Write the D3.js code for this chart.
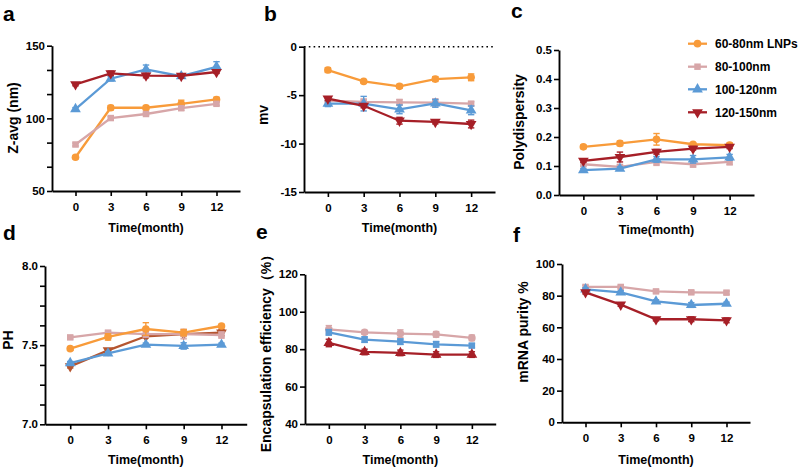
<!DOCTYPE html>
<html>
<head>
<meta charset="utf-8">
<script src="https://cdn.jsdelivr.net/npm/d3@7"></script>
<style>
  html, body { margin: 0; padding: 0; background: #fff; }
  svg { display: block; }
  text { font-family: "Liberation Sans", Arial, sans-serif; font-weight: bold; fill: #000; }
</style>
</head>
<body>
<svg id="chart" width="800" height="469"></svg>
<script>
// ---------------- DATA ----------------
const months = [0, 3, 6, 9, 12];
const xTickLabels = ["0", "3", "6", "9", "12"];
const seriesNames = ["60-80nm LNPs", "80-100nm", "100-120nm", "120-150nm"];

// a: Z-avg (nm)
const zavg_60_80 = [73.2, 107.3, 107.3, 110.0, 113.0];
const zavg_60_80_err = [1.0, 1.5, 1.5, 2.5, 1.5];
const zavg_80_100 = [82.0, 100.2, 103.0, 107.0, 110.0];
const zavg_80_100_err = [1.0, 1.0, 1.0, 1.5, 1.0];
const zavg_100_120 = [106.4, 127.3, 133.7, 129.0, 135.5];
const zavg_100_120_err = [1.0, 1.5, 3.0, 1.0, 3.5];
const zavg_120_150 = [123.4, 131.0, 129.4, 129.2, 131.9];
const zavg_120_150_err = [1.0, 1.5, 1.5, 1.5, 1.0];
const zavgTicks = [50, 100, 150];
const zavgMinor = [66.7, 83.3, 116.7, 133.3];

// b: zeta potential (mv)
const mv_60_80 = [-2.41, -3.58, -4.09, -3.34, -3.16];
const mv_60_80_err = [0.25, 0.15, 0.2, 0.25, 0.35];
const mv_80_100 = [-5.57, -5.70, -5.74, -5.78, -5.88];
const mv_80_100_err = [0.2, 0.3, 0.3, 0.4, 0.2];
const mv_100_120 = [-5.88, -5.88, -6.47, -5.85, -6.57];
const mv_100_120_err = [0.3, 0.75, 0.45, 0.4, 0.45];
const mv_120_150 = [-5.37, -6.10, -7.64, -7.77, -7.98];
const mv_120_150_err = [0.2, 0.2, 0.35, 0.2, 0.4];
const mvTicks = [-15, -10, -5, 0];

// c: Polydispersity
const pdi_60_80 = [0.166, 0.178, 0.192, 0.175, 0.172];
const pdi_60_80_err = [0.006, 0.008, 0.02, 0.005, 0.007];
const pdi_80_100 = [0.106, 0.097, 0.114, 0.106, 0.114];
const pdi_80_100_err = [0.006, 0.006, 0.012, 0.01, 0.01];
const pdi_100_120 = [0.086, 0.091, 0.123, 0.123, 0.130];
const pdi_100_120_err = [0.005, 0.006, 0.01, 0.013, 0.01];
const pdi_120_150 = [0.118, 0.131, 0.149, 0.160, 0.166];
const pdi_120_150_err = [0.005, 0.017, 0.008, 0.005, 0.006];
const pdiTicks = [0.0, 0.1, 0.2, 0.3, 0.4, 0.5];

// d: PH
const ph_60_80 = [7.478, 7.552, 7.602, 7.579, 7.621];
const ph_60_80_err = [0.01, 0.02, 0.04, 0.02, 0.01];
const ph_80_100 = [7.549, 7.579, 7.570, 7.570, 7.564];
const ph_80_100_err = [0.01, 0.01, 0.02, 0.03, 0.02];
const ph_100_120 = [7.387, 7.448, 7.503, 7.495, 7.503];
const ph_100_120_err = [0.01, 0.01, 0.01, 0.02, 0.01];
const ph_120_150 = [7.366, 7.467, 7.556, 7.570, 7.579];
const ph_120_150_err = [0.01, 0.01, 0.01, 0.01, 0.02];
const phTicks = [7.0, 7.5, 8.0];
const phMinor = [7.125, 7.25, 7.375, 7.625, 7.75, 7.875];

// e: Encapsulation efficiency (%)
const ee_80_100 = [90.6, 89.0, 88.3, 87.9, 86.0];
const ee_80_100_err = [2.0, 1.0, 2.0, 1.5, 1.5];
const ee_100_120 = [89.0, 85.1, 84.0, 82.6, 81.9];
const ee_100_120_err = [1.5, 1.5, 1.5, 1.5, 1.0];
const ee_120_150 = [83.3, 78.5, 78.0, 77.1, 77.1];
const ee_120_150_err = [2.0, 1.5, 1.5, 1.5, 1.5];
const eeTicks = [40, 60, 80, 100, 120];

// f: mRNA purity %
const pur_80_100 = [85.5, 85.5, 82.7, 82.1, 81.9];
const pur_80_100_err = [1.0, 1.0, 1.0, 1.0, 1.0];
const pur_100_120 = [84.0, 82.1, 76.4, 74.1, 74.9];
const pur_100_120_err = [1.0, 1.0, 1.0, 1.5, 1.0];
const pur_120_150 = [82.1, 74.3, 65.1, 65.1, 64.4];
const pur_120_150_err = [1.0, 1.0, 1.0, 1.5, 1.5];
const purTicks = [0, 20, 40, 60, 80, 100];

// ---------------- STYLE ----------------
const C_ORANGE = "#F89B3A", C_PINK = "#D7A6A8", C_BLUE = "#5B9AD6", C_RED = "#A61F27", C_BROWN = "#B5552F";
const SYM = {
  circle: {type: d3.symbolCircle, size: 46, rot: 0},
  square: {type: d3.symbolSquare, size: 42, rot: 0},
  tri: {type: d3.symbolTriangle, size: 50, rot: 0},
  inv: {type: d3.symbolTriangle, size: 50, rot: 180}
};

const panels = [
  {letter: "a", lx: 3, ly: 21, x0: 52, x1: 240, y0: 45.7, y1: 191, dom: [50, 150], ticks: zavgTicks, minor: zavgMinor, fmt: d => d,
   title: "Z-avg (nm)", tx: 18, ty: 118, xt: 232,
   series: [
     {v: zavg_60_80, e: zavg_60_80_err, c: C_ORANGE, s: "circle"},
     {v: zavg_80_100, e: zavg_80_100_err, c: C_PINK, s: "square"},
     {v: zavg_100_120, e: zavg_100_120_err, c: C_BLUE, s: "tri"},
     {v: zavg_120_150, e: zavg_120_150_err, c: C_RED, s: "inv"}]},
  {letter: "b", lx: 264, ly: 21, x0: 304, x1: 495, y0: 46.7, y1: 192, dom: [-15, 0], ticks: mvTicks, minor: [], fmt: d => d,
   title: "mv", tx: 268, ty: 115, xt: 232, zeroLine: true,
   series: [
     {v: mv_60_80, e: mv_60_80_err, c: C_ORANGE, s: "circle"},
     {v: mv_80_100, e: mv_80_100_err, c: C_PINK, s: "square"},
     {v: mv_100_120, e: mv_100_120_err, c: C_BLUE, s: "tri"},
     {v: mv_120_150, e: mv_120_150_err, c: C_RED, s: "inv"}]},
  {letter: "c", lx: 511, ly: 18, x0: 559, x1: 754, y0: 50, y1: 195, dom: [0, 0.5], ticks: pdiTicks, minor: [], fmt: d3.format(".1f"),
   title: "Polydispersity", tx: 524, ty: 122, xt: 234, legend: true,
   series: [
     {v: pdi_60_80, e: pdi_60_80_err, c: C_ORANGE, s: "circle"},
     {v: pdi_80_100, e: pdi_80_100_err, c: C_PINK, s: "square"},
     {v: pdi_100_120, e: pdi_100_120_err, c: C_BLUE, s: "tri"},
     {v: pdi_120_150, e: pdi_120_150_err, c: C_RED, s: "inv"}]},
  {letter: "d", lx: 3, ly: 240, x0: 45, x1: 246.7, y0: 266, y1: 424.3, dom: [7.0, 8.0], ticks: phTicks, minor: phMinor, fmt: d3.format(".1f"),
   title: "PH", tx: 12.5, ty: 340, xt: 464,
   series: [
     {v: ph_120_150, e: ph_120_150_err, c: C_BROWN, s: "inv"},
     {v: ph_100_120, e: ph_100_120_err, c: C_BLUE, s: "tri"},
     {v: ph_80_100, e: ph_80_100_err, c: C_PINK, s: "square"},
     {v: ph_60_80, e: ph_60_80_err, c: C_ORANGE, s: "circle"}]},
  {letter: "e", lx: 256, ly: 239, x0: 305, x1: 495.7, y0: 274.3, y1: 424, dom: [40, 120], ticks: eeTicks, minor: [], fmt: d => d,
   title: "Encapsulation efficiency（%）", tx: 271, ty: 350, xt: 464,
   series: [
     {v: ee_80_100, e: ee_80_100_err, c: C_PINK, s: "circle"},
     {v: ee_100_120, e: ee_100_120_err, c: C_BLUE, s: "square"},
     {v: ee_120_150, e: ee_120_150_err, c: C_RED, s: "tri"}]},
  {letter: "f", lx: 513, ly: 242, x0: 562, x1: 750, y0: 264, y1: 422.3, dom: [0, 100], ticks: purTicks, minor: [], fmt: d => d,
   title: "mRNA purity %", tx: 528, ty: 332, xt: 464,
   series: [
     {v: pur_80_100, e: pur_80_100_err, c: C_PINK, s: "square"},
     {v: pur_100_120, e: pur_100_120_err, c: C_BLUE, s: "tri"},
     {v: pur_120_150, e: pur_120_150_err, c: C_RED, s: "inv"}]}
];

const svg = d3.select("#chart");

function symbolPath(key) {
  return d3.symbol().type(SYM[key].type).size(SYM[key].size)();
}

function drawPanel(p) {
  const g = svg.append("g");
  const x = d3.scaleLinear().domain([-2, 14]).range([p.x0, p.x1]);
  const y = d3.scaleLinear().domain(p.dom).range([p.y1, p.y0]);

  // panel letter
  svg.append("text").attr("x", p.lx).attr("y", p.ly).attr("font-size", 21).text(p.letter);

  // zero dotted line
  if (p.zeroLine) {
    g.append("line").attr("x1", p.x0).attr("x2", p.x1).attr("y1", y(0)).attr("y2", y(0))
      .attr("stroke", "#000").attr("stroke-width", 1.6).attr("stroke-dasharray", "1.6,3.2");
  }

  // series
  const line = d3.line().x((d, i) => x(months[i])).y(d => y(d));
  p.series.forEach(s => {
    const sg = g.append("g");
    sg.append("path").attr("d", line(s.v)).attr("fill", "none").attr("stroke", s.c).attr("stroke-width", 2.3);
    s.v.forEach((v, i) => {
      const cx = x(months[i]);
      const yt = y(v + s.e[i]), yb = y(v - s.e[i]);
      sg.append("line").attr("x1", cx).attr("x2", cx).attr("y1", yt).attr("y2", yb).attr("stroke", s.c).attr("stroke-width", 1.4);
      sg.append("line").attr("x1", cx - 3.2).attr("x2", cx + 3.2).attr("y1", yt).attr("y2", yt).attr("stroke", s.c).attr("stroke-width", 1.4);
      sg.append("line").attr("x1", cx - 3.2).attr("x2", cx + 3.2).attr("y1", yb).attr("y2", yb).attr("stroke", s.c).attr("stroke-width", 1.4);
      sg.append("path").attr("d", symbolPath(s.s))
        .attr("transform", `translate(${cx},${y(v)}) rotate(${SYM[s.s].rot})`)
        .attr("fill", s.c);
    });
  });

  // y axis
  const yAxis = g.append("g").attr("transform", `translate(${p.x0},0)`)
    .call(d3.axisLeft(y).tickValues(p.ticks).tickFormat(p.fmt).tickSize(5).tickSizeOuter(0).tickPadding(2));
  if (p.minor.length) {
    g.append("g").attr("transform", `translate(${p.x0},0)`)
      .call(d3.axisLeft(y).tickValues(p.minor).tickFormat("").tickSize(5).tickSizeOuter(0))
      .call(a => a.select(".domain").remove());
  }
  // x axis
  const xAxis = g.append("g").attr("transform", `translate(0,${p.y1})`)
    .call(d3.axisBottom(x).tickValues(months).tickFormat((d, i) => xTickLabels[i]).tickSize(5).tickSizeOuter(0).tickPadding(7));

  g.selectAll(".domain").attr("stroke", "#000").attr("stroke-width", 1.9);
  g.selectAll(".tick line").attr("stroke", "#000").attr("stroke-width", 1.6);
  g.selectAll(".tick text").attr("font-size", 11.5).attr("font-family", "'Liberation Sans', Arial, sans-serif")
    .attr("font-weight", "bold").attr("fill", "#000");

  // axis titles
  svg.append("text").attr("x", (p.x0 + p.x1) / 2).attr("y", p.xt).attr("text-anchor", "middle")
    .attr("font-size", 12.5).text("Time(month)");
  svg.append("text").attr("transform", `translate(${p.tx},${p.ty}) rotate(-90)`).attr("text-anchor", "middle")
    .attr("font-size", 14).text(p.title);

  // legend
  if (p.legend) {
    const ly = [43.7, 66.7, 89.3, 112.3];
    p.series.forEach((s, i) => {
      const lg = svg.append("g").attr("transform", `translate(0,${ly[i]})`);
      lg.append("line").attr("x1", 688).attr("x2", 707).attr("y1", 0).attr("y2", 0).attr("stroke", s.c).attr("stroke-width", 2.3);
      lg.append("path").attr("d", symbolPath(s.s)).attr("transform", `translate(697.5,0) rotate(${SYM[s.s].rot})`).attr("fill", s.c);
      lg.append("text").attr("x", 715).attr("y", 4.3).attr("font-size", 12).text(seriesNames[i]);
    });
  }
}

panels.forEach(drawPanel);
</script>
</body>
</html>
